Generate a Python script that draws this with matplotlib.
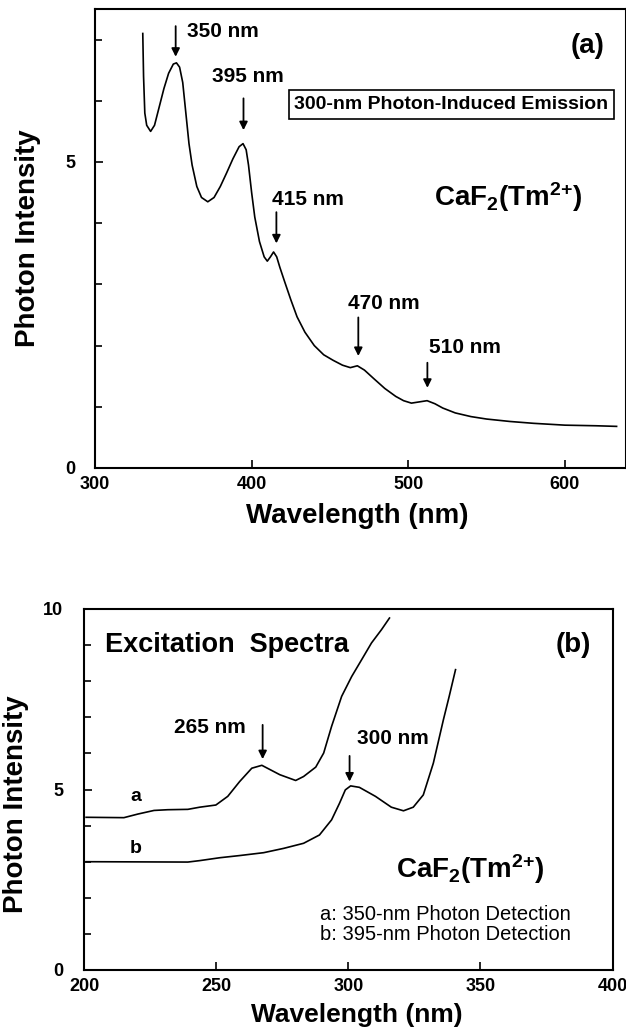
import numpy as np
import matplotlib
matplotlib.use('Agg')
import matplotlib.pyplot as plt
import matplotlib.transforms as mtransforms
from matplotlib.ticker import MultipleLocator

# Plotting style
plt.rcParams['font.family'] = ['Liberation Sans', 'DejaVu Sans']
plt.rcParams['font.weight'] = 'bold'
plt.rcParams['mathtext.fontset'] = 'custom'
plt.rcParams['mathtext.rm'] = 'Liberation Sans:bold'
plt.rcParams['mathtext.bf'] = 'Liberation Sans:bold'
plt.rcParams['mathtext.default'] = 'bf'

# (a) emission spectrum, 300 nm excitation
em_wl = [330.5, 331.0, 331.8, 333.0, 335.5, 338, 341, 344, 347, 350, 352, 354, 356, 358,
         360, 362, 365, 368, 372, 376, 380, 384, 388, 392, 394.5, 396.5, 398, 400, 402,
         405, 408, 410, 412, 414, 416, 418, 421, 425, 429, 434, 440, 446, 452, 458, 463,
         467.5, 472, 478, 485, 492, 497, 502, 507, 512, 517, 522, 530, 540, 550, 565,
         580, 600, 620, 633]
em_int = [7.1, 6.4, 5.8, 5.6, 5.5, 5.6, 5.9, 6.2, 6.45, 6.6, 6.62, 6.55, 6.3, 5.8,
          5.3, 4.95, 4.6, 4.42, 4.35, 4.42, 4.6, 4.82, 5.05, 5.25, 5.3, 5.2, 4.95, 4.5, 4.1,
          3.7, 3.45, 3.38, 3.45, 3.53, 3.45, 3.28, 3.05, 2.75, 2.47, 2.22, 2.0, 1.85, 1.76,
          1.68, 1.64, 1.67, 1.6, 1.46, 1.3, 1.17, 1.1, 1.06, 1.08, 1.1, 1.05, 0.98, 0.9,
          0.84, 0.8, 0.76, 0.73, 0.70, 0.69, 0.68]

# (b) excitation spectra
exa_wl = [200.8, 215.1, 220.4, 226.5, 231.7, 239.3, 243.8, 249.9, 254.4, 258.9, 263.5,
          267.3, 274.1, 280.1, 283.1, 287.7, 290.7, 293.7, 297.5, 301.3, 305.1, 308.8,
          312.6, 315.6]
exa_int = [4.23, 4.22, 4.32, 4.42, 4.44, 4.45, 4.51, 4.57, 4.81, 5.22, 5.59,
           5.67, 5.41, 5.25, 5.36, 5.62, 6.01, 6.75, 7.58, 8.13, 8.60, 9.06, 9.43, 9.75]
exb_wl = [200.8, 239.3, 243.8, 251.4, 258.9, 268.0, 275.6, 283.1, 289.1, 293.7, 296.7,
          298.9, 300.9, 304.2, 310.3, 316.3, 320.9, 324.6, 328.4, 332.2, 336.0, 338.2, 340.6]
exb_int = [3.00, 2.99, 3.03, 3.11, 3.17, 3.25, 3.37, 3.51, 3.74, 4.16, 4.62,
           4.99, 5.10, 5.06, 4.81, 4.51, 4.41, 4.51, 4.85, 5.73, 6.93, 7.58, 8.32]

# peak arrows: (x, arrow top, arrow tip)
em_peaks = [350, 395, 415, 470, 510]
em_arrows = [(351.5, 7.22, 6.72), (394.8, 6.04, 5.52), (415.8, 4.18, 3.67),
             (468.1, 2.46, 1.83), (512.2, 1.72, 1.31)]
em_labels = [(358.7, 7.14, 'left'), (397.4, 6.39, 'center'), (435.7, 4.39, 'center'),
             (484.2, 2.68, 'center'), (536.0, 1.97, 'center')]
ex_peaks = [265, 300]
ex_arrows = [(267.6, 6.79, 5.84), (300.5, 5.93, 5.22)]
ex_labels = [(247.5, 6.73), (317.0, 6.40)]

caf2 = r'CaF$_{2}$(Tm$^{\text{2+}}$)'

fig = plt.figure(figsize=(6.26, 10.31), dpi=100)
ax1 = fig.add_axes([95/626, 1-468/1031, 531/626, 459/1031])
ax2 = fig.add_axes([84/626, 1-970/1031, 528.5/626, 361/1031])

def style_axes(ax, ypad):
    for s in ax.spines.values():
        s.set_linewidth(1.5)
    ax.tick_params(direction='in', which='both', labelsize=13, width=1.2)
    ax.tick_params(axis='x', which='major', length=6, pad=6)
    ax.tick_params(axis='y', which='major', length=6, pad=ypad)
    ax.tick_params(axis='y', which='minor', length=5)
    ax.yaxis.set_major_locator(MultipleLocator(5))
    ax.yaxis.set_minor_locator(MultipleLocator(1))
    for lab in ax.get_xticklabels() + ax.get_yticklabels():
        lab.set_fontweight('bold')

def arrow(ax, x, ytop, ytip):
    ax.annotate('', xy=(x, ytip), xytext=(x, ytop),
                arrowprops=dict(arrowstyle='-|>', color='k', lw=1.3,
                                mutation_scale=12, shrinkA=0, shrinkB=0))

# ---- panel (a)
ax1.plot(em_wl, em_int, color='k', lw=1.2)
ax1.set_xlim(300, 639)
ax1.set_ylim(0, 7.5)
ax1.xaxis.set_major_locator(MultipleLocator(100))
style_axes(ax1, 14)
for (x, yt, yb) in em_arrows:
    arrow(ax1, x, yt, yb)
for p, (x, y, ha) in zip(em_peaks, em_labels):
    ax1.text(x, y, '%d nm' % p, ha=ha, va='center', fontsize=15, fontweight='bold')
ax1.text(614.3, 6.89, '(a)', ha='center', va='center', fontsize=20, fontweight='bold')
ax1.text(527.6, 5.94, '300-nm Photon-Induced Emission', ha='center', va='center',
         fontsize=14, fontweight='bold',
         bbox=dict(boxstyle='square,pad=0.3', fc='white', ec='k', lw=1.2))
ax1.text(563.8, 4.28, caf2, ha='center', va='baseline', fontsize=20, fontweight='bold')
ax1.set_xlabel('Wavelength (nm)', fontsize=20, fontweight='bold')
ax1.set_ylabel('Photon Intensity', fontsize=20, fontweight='bold')
ax1.xaxis.set_label_coords(0.493, -0.105)
ax1.yaxis.set_label_coords(-0.126, 0.5)
ax1.xaxis.label.set_va('center')
ax1.yaxis.label.set_va('center')

# ---- panel (b)
ax2.plot(exa_wl, exa_int, color='k', lw=1.2)
ax2.plot(exb_wl, exb_int, color='k', lw=1.2)
ax2.set_xlim(200, 400)
ax2.set_ylim(0, 10)
ax2.xaxis.set_major_locator(MultipleLocator(50))
style_axes(ax2, 15)
for (x, yt, yb) in ex_arrows:
    arrow(ax2, x, yt, yb)
for p, (x, y) in zip(ex_peaks, ex_labels):
    ax2.text(x, y, '%d nm' % p, ha='center', va='center', fontsize=15, fontweight='bold')
ax2.text(207.9, 9.01, 'Excitation  Spectra', ha='left', va='center', fontsize=19.5,
         fontweight='bold')
ax2.text(385.2, 9.01, '(b)', ha='center', va='center', fontsize=20, fontweight='bold')
ax2.text(219.7, 4.81, 'a', ha='center', va='center', fontsize=14, fontweight='bold')
ax2.text(219.7, 3.37, 'b', ha='center', va='center', fontsize=14, fontweight='bold')
ax2.text(346.2, 2.54, caf2, ha='center', va='baseline', fontsize=20, fontweight='bold')
ax2.text(289.2, 1.54, 'a: 350-nm Photon Detection', ha='left', va='center',
         fontsize=14.5, fontweight='normal')
ax2.text(289.2, 0.99, 'b: 395-nm Photon Detection', ha='left', va='center',
         fontsize=14.5, fontweight='normal')
ax2.set_xlabel('Wavelength (nm)', fontsize=19, fontweight='bold')
ax2.set_ylabel('Photon Intensity', fontsize=20, fontweight='bold')
ax2.xaxis.set_label_coords(0.517, -0.125)
ax2.yaxis.set_label_coords(-0.129, 0.46)
ax2.xaxis.label.set_va('center')
ax2.yaxis.label.set_va('center')

# last tick label sits at the image edge, nudge it in a little
fig.canvas.draw()
last = ax2.xaxis.get_major_ticks()[-1].label1
last.set_transform(last.get_transform() +
                   mtransforms.ScaledTranslation(-4/100, 0, fig.dpi_scale_trans))

fig.savefig('out.png', dpi=100)
